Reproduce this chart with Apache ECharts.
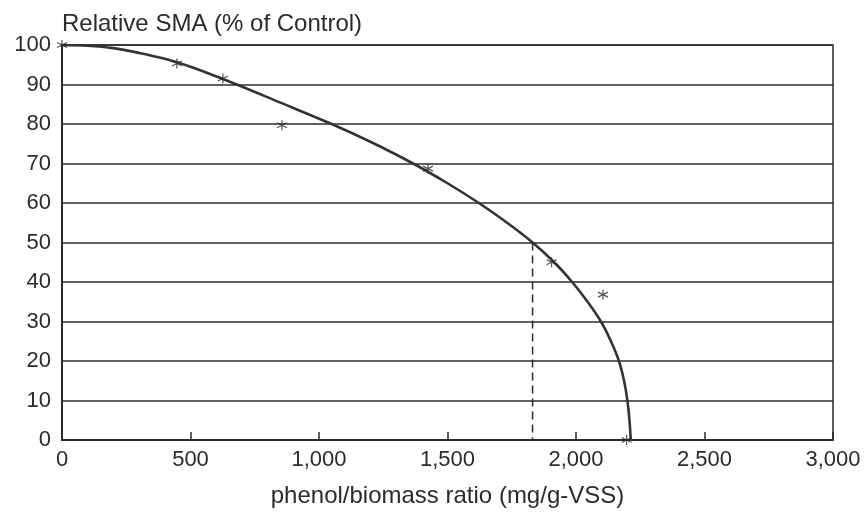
<!DOCTYPE html>
<html>
<head>
<meta charset="utf-8">
<script src="https://cdn.jsdelivr.net/npm/echarts@6/dist/echarts.min.js"></script>
<style>
  html, body { margin: 0; padding: 0; background: #fff; }
  #chart { width: 867px; height: 513px; }
</style>
</head>
<body>
<div id="chart"></div>
<script>
// fitted curve (x = mg/g-VSS, y = % of control)
const curveX = [0, 100, 200, 300, 400, 500, 680, 850, 1049, 1200, 1366, 1500, 1622, 1732, 1831, 1915, 1985, 2045, 2097, 2136, 2167, 2187, 2200, 2208, 2213];
const curveY = [100, 99.8, 99.2, 98, 96.5, 94.5, 90, 85.4, 80, 75.5, 70, 65, 60, 55, 50, 45, 40, 35, 30, 25, 20, 15, 10, 5, 0];

// measured points (asterisks)
const obsX = [0, 447, 626, 856, 1424, 1905, 2105, 2197];
const obsY = [100, 95.3, 91.5, 79.7, 68.7, 45, 36.8, 0];

// dashed drop line at 50 %
const dropX = [1831, 1831];
const dropY = [50, 0];

const xTicks = [0, 500, 1000, 1500, 2000, 2500, 3000];

const zip = (a, b) => a.map((v, i) => [v, b[i]]);

const chart = echarts.init(document.getElementById('chart'));
const ink = '#2b2b2b';
const font = 'Liberation Sans, Arial, sans-serif';

const option = {
  animation: false,
  grid: {
    left: 62, right: 34, top: 45, bottom: 69,
    show: true, borderColor: ink, borderWidth: 1.5
  },
  xAxis: {
    type: 'value',
    min: 0, max: 3000, interval: 500,
    name: 'phenol/biomass ratio (mg/g-VSS)',
    nameLocation: 'middle',
    nameGap: 44,
    nameTextStyle: { color: ink, fontSize: 24, fontFamily: font },
    axisLine: { show: true, lineStyle: { color: ink, width: 2 } },
    axisTick: { show: true, inside: true, length: 8, lineStyle: { color: ink, width: 1.5 } },
    splitLine: { show: false },
    axisLabel: {
      color: ink, fontSize: 22, fontFamily: font, margin: 9,
      formatter: v => xTicks.includes(v) ? v.toLocaleString('en-US') : ''
    }
  },
  yAxis: {
    type: 'value',
    min: 0, max: 100, interval: 10,
    name: 'Relative SMA (% of Control)',
    nameLocation: 'end',
    nameGap: 21,
    nameTextStyle: { color: ink, fontSize: 24, fontFamily: font, align: 'left', verticalAlign: 'middle' },
    axisLine: { show: true, lineStyle: { color: ink, width: 2 } },
    axisTick: { show: false },
    splitLine: { show: true, lineStyle: { color: ink, width: 1.5 } },
    axisLabel: { color: ink, fontSize: 22, fontFamily: font, margin: 11 }
  },
  series: [
    {
      name: 'curve',
      type: 'line',
      data: zip(curveX, curveY),
      smooth: 0.35,
      showSymbol: false,
      lineStyle: { color: '#333', width: 2.6 },
      z: 3
    },
    {
      name: 'drop',
      type: 'line',
      data: zip(dropX, dropY),
      showSymbol: false,
      lineStyle: { color: ink, width: 1.5, type: [8, 5] },
      z: 2
    },
    {
      name: 'observed',
      type: 'scatter',
      data: zip(obsX, obsY),
      symbol: 'path://M0,-5L0,5M-4.3,-2.5L4.3,2.5M-4.3,2.5L4.3,-2.5',
      symbolSize: 10,
      itemStyle: { color: 'none', borderColor: ink, borderWidth: 1.2 },
      z: 4
    }
  ]
};

chart.setOption(option);
</script>
</body>
</html>
